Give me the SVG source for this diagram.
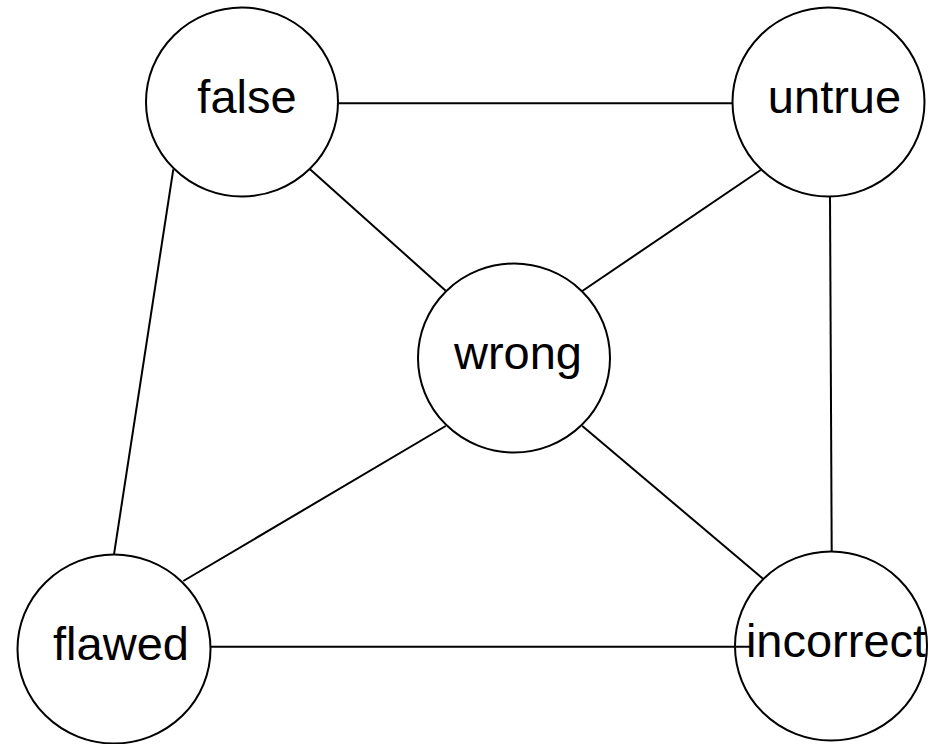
<svg xmlns="http://www.w3.org/2000/svg" width="931" height="744" viewBox="0 0 931 744">
<style>
.node ellipse{fill:#fff;stroke:#000;stroke-width:2}
.node text{font-family:"Liberation Sans",Arial,sans-serif;font-size:47px;fill:#000;text-anchor:middle}
.edges line{stroke:#000;stroke-width:2}
</style>
<rect width="931" height="744" fill="#fff"/>
<g id="false" class="node"><ellipse cx="242" cy="102" rx="96" ry="94.5"/><text x="247" y="113">false</text></g>
<g id="untrue" class="node"><ellipse cx="828.5" cy="102" rx="96" ry="94.5"/><text x="834.5" y="113">untrue</text></g>
<g id="wrong" class="node"><ellipse cx="514" cy="358" rx="96" ry="94.5"/><text x="518" y="369">wrong</text></g>
<g id="flawed" class="node"><ellipse cx="114" cy="649" rx="96.5" ry="94.5"/><text x="121" y="660">flawed</text></g>
<g id="incorrect" class="node"><ellipse cx="831" cy="646" rx="96" ry="94.5"/><text x="836" y="657">incorrect</text></g>
<g id="connectors" class="edges">
<line x1="338" y1="103.3" x2="732" y2="103.3"/>
<line x1="310" y1="169.3" x2="445.7" y2="290.7"/>
<line x1="173.3" y1="169.3" x2="114" y2="554.3"/>
<line x1="760.7" y1="170" x2="582.3" y2="291"/>
<line x1="830" y1="196.7" x2="831.7" y2="551.7"/>
<line x1="445.7" y1="426" x2="183.3" y2="581"/>
<line x1="582.3" y1="426" x2="763.3" y2="579"/>
<line x1="210.7" y1="646.7" x2="752" y2="646.7"/>
</g>
</svg>
